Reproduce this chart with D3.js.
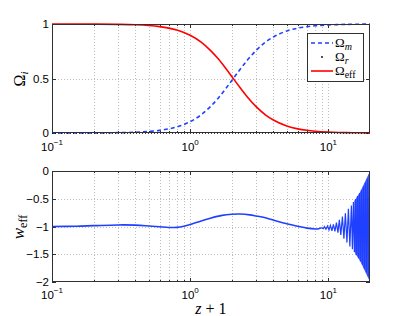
<!DOCTYPE html>
<html><head><meta charset="utf-8">
<script src="https://cdn.jsdelivr.net/npm/d3@7"></script>
<style>body{margin:0;background:#fff}svg{display:block}</style>
</head><body>
<svg id="c" width="409" height="316"></svg>
<script>
// ---- data ----
const zTop = [0.1,0.15,0.2,0.3,0.4,0.5,0.6,0.7,0.8,0.9,1.0,1.2,1.4,1.6,1.8,2.0,2.3,2.6,3.0,3.5,4,5,6,7,8,10,12,15,20];
const omegaEff = [0.9999,0.9996,0.999,0.997,0.993,0.986,0.976,0.962,0.944,0.922,0.896,0.833,0.758,0.678,0.596,0.518,0.415,0.329,0.242,0.167,0.119,0.064,0.038,0.0245,0.0166,0.0085,0.005,0.0025,0.0011];
const omegaM = [0.0001,0.0004,0.001,0.003,0.007,0.014,0.024,0.038,0.056,0.078,0.104,0.167,0.242,0.322,0.404,0.482,0.585,0.671,0.758,0.833,0.881,0.936,0.962,0.9755,0.9834,0.9915,0.995,0.9975,0.9989];
const omegaR = [0,0,0,0,0,0,0,0,0,0,0,0,0,0,0,0,0,0,0,0,0,0,0,0,0,0,0,0,0];

const zW = [0.1,0.15,0.2,0.3,0.4,0.5,0.6,0.7,0.8,0.9,1.0,1.2,1.4,1.7,2.0,2.3,2.7,3.0,3.6,4.2,5,6,7,8,8.5,8.9];
const wEff = [-1.0,-0.995,-0.985,-0.972,-0.975,-0.99,-1.005,-1.018,-1.015,-0.995,-0.965,-0.9,-0.85,-0.80,-0.78,-0.775,-0.79,-0.81,-0.85,-0.9,-0.95,-0.995,-1.03,-1.045,-1.04,-1.02];
const zOsc = [8.9,9.2,9.35,9.6,9.85,10.1,10.34,10.6,10.87,11.15,11.43,11.72,12.0,12.3,12.63,12.95,13.27,13.62,13.96,14.3,14.67,14.92,15.17,15.42,15.68,15.95,16.22,16.49,16.77,17.05,17.33,17.62,17.92,18.22,18.53,18.84,19.16,19.48,19.8,20,20];
const wOsc = [-1.02,-1.04,-1.0,-1.05,-0.99,-1.06,-0.98,-1.08,-0.96,-1.09,-0.93,-1.11,-0.88,-1.15,-0.82,-1.22,-0.76,-1.29,-0.68,-1.36,-0.62,-1.41,-0.56,-1.46,-0.51,-1.52,-0.45,-1.57,-0.40,-1.63,-0.34,-1.69,-0.28,-1.76,-0.21,-1.83,-0.14,-1.90,-0.06,-2.0,0.0];
const zEnv = [15.42,17.05,20];
const envUpper = [-0.54,-0.37,0];
const envLower = [-1.46,-1.63,-2];

const xTicks = [0.1,1,10];
const xTickExp = ["\u22121","0","1"];
const yTopTicks = [0,0.5,1];
const yTopLabels = ["0","0.5","1"];
const yBotTicks = [0,-0.5,-1,-1.5,-2];
const yBotLabels = ["0","\u22120.5","\u22121","\u22121.5","\u22122"];

// ---- layout ----
const SANS = "'Liberation Sans', Arial, sans-serif";
const SERIF = "'Liberation Serif', 'Times New Roman', serif";
const svg = d3.select("#c");
const L = 52, R = 370;
const top1 = 24, bot1 = 133, top2 = 171, bot2 = 282;
const x = d3.scaleLog().domain([0.1,20]).range([L,R]);
const y1 = d3.scaleLinear().domain([0,1]).range([bot1,top1]);
const y2 = d3.scaleLinear().domain([-2,0]).range([bot2,top2]);

const axisColor = "#303030";
const gridColor = "#bdbdbd";
const minorTicks = [];
[0.1,1,10].forEach(d => { for (let k=2;k<=9;k++){ const v=d*k; if (v<20) minorTicks.push(v);} });
const majorInside = [1,10];

function panel(yS, top, bot, yTicks, yLabels, labelBase) {
  const g = svg.append("g");
  g.selectAll(null).data(minorTicks.concat(majorInside)).enter().append("line")
    .attr("x1", d=>Math.round(x(d))+0.5).attr("x2", d=>Math.round(x(d))+0.5)
    .attr("y1", top).attr("y2", bot)
    .attr("stroke", gridColor).attr("stroke-width",1).attr("stroke-dasharray","1,2");
  g.selectAll(null).data(yTicks.slice(1,-1)).enter().append("line")
    .attr("x1", L).attr("x2", R)
    .attr("y1", d=>Math.round(yS(d))+0.5).attr("y2", d=>Math.round(yS(d))+0.5)
    .attr("stroke", gridColor).attr("stroke-width",1).attr("stroke-dasharray","1,2");
  [[bot,-1],[top,1]].forEach(([yy,dir]) => {
    g.selectAll(null).data(majorInside).enter().append("line")
      .attr("x1", d=>Math.round(x(d))+0.5).attr("x2", d=>Math.round(x(d))+0.5)
      .attr("y1", yy).attr("y2", yy+dir*4).attr("stroke", axisColor);
    g.selectAll(null).data(minorTicks).enter().append("line")
      .attr("x1", d=>Math.round(x(d))+0.5).attr("x2", d=>Math.round(x(d))+0.5)
      .attr("y1", yy).attr("y2", yy+dir*2).attr("stroke", axisColor);
  });
  [[L,1],[R,-1]].forEach(([xx,dir]) => {
    g.selectAll(null).data(yTicks).enter().append("line")
      .attr("x1", xx).attr("x2", xx+dir*4)
      .attr("y1", d=>Math.round(yS(d))+0.5).attr("y2", d=>Math.round(yS(d))+0.5)
      .attr("stroke", axisColor);
  });
  g.selectAll(null).data(yTicks).enter().append("text")
    .attr("x", L-3).attr("y", d=>yS(d)+4)
    .attr("text-anchor","end")
    .attr("font-family",SANS).attr("font-size","11.5px")
    .attr("fill","#000")
    .text((d,i)=>yLabels[i]);
  const t = g.selectAll(null).data(xTicks).enter().append("text")
    .attr("x", d=>x(d)).attr("y", labelBase)
    .attr("text-anchor","middle")
    .attr("font-family",SANS).attr("font-size","11.5px")
    .attr("fill","#000");
  t.append("tspan").text("10");
  t.append("tspan").attr("dy",-6).attr("font-size","8px").text((d,i)=>xTickExp[i]);
  return g;
}

function box(top, bot) {
  svg.append("rect").attr("x", L+0.5).attr("y", top+0.5)
    .attr("width", R-L-1).attr("height", bot-top-1)
    .attr("fill","none").attr("stroke", axisColor).attr("stroke-width",1);
}

// top panel
panel(y1, top1, bot1, yTopTicks, yTopLabels, 151);
svg.append("clipPath").attr("id","cl1").append("rect")
  .attr("x",L).attr("y",top1-2).attr("width",R-L).attr("height",bot1-top1+4);
const line1 = (arr) => d3.line().x((d,i)=>x(zTop[i])).y((d)=>y1(d)).curve(d3.curveMonotoneX)(arr);
const gp1 = svg.append("g").attr("clip-path","url(#cl1)");
gp1.append("path").attr("d", line1(omegaM)).attr("fill","none")
  .attr("stroke","#2040ff").attr("stroke-width",1.6).attr("stroke-dasharray","4,3");
gp1.append("path").attr("d", line1(omegaEff)).attr("fill","none")
  .attr("stroke","#ff0000").attr("stroke-width",1.6);
gp1.append("path").attr("d", line1(omegaR)).attr("fill","none")
  .attr("stroke","#000").attr("stroke-width",1.3).attr("stroke-dasharray","1,2");
box(top1, bot1);

// legend
const lg = svg.append("g");
lg.append("rect").attr("x",307.5).attr("y",33.5).attr("width",56).attr("height",48)
  .attr("fill","#fff").attr("stroke",axisColor).attr("stroke-width",1);
const legY = [43, 57, 71];
lg.append("line").attr("x1",311).attr("x2",333).attr("y1",legY[0]).attr("y2",legY[0])
  .attr("stroke","#2040ff").attr("stroke-width",1.6).attr("stroke-dasharray","4,3");
lg.append("circle").attr("cx",322).attr("cy",legY[1]).attr("r",0.9).attr("fill","#000");
lg.append("line").attr("x1",311).attr("x2",333).attr("y1",legY[2]).attr("y2",legY[2])
  .attr("stroke","#ff0000").attr("stroke-width",1.6);
const legText = [["\u03A9","m",true],["\u03A9","r",true],["\u03A9","eff",false]];
legText.forEach((e,i) => {
  const t = lg.append("text").attr("x",335).attr("y",legY[i]+4)
    .attr("font-family",SERIF).attr("font-size","13px").attr("fill","#000");
  t.append("tspan").text(e[0]);
  t.append("tspan").attr("dy",3).attr("font-size","10px").attr("font-style", e[2]?"italic":"normal").text(e[1]);
});

// bottom panel
panel(y2, top2, bot2, yBotTicks, yBotLabels, 299);
svg.append("clipPath").attr("id","cl2").append("rect")
  .attr("x",L).attr("y",top2).attr("width",R-L).attr("height",bot2-top2);
const gp2 = svg.append("g").attr("clip-path","url(#cl2)");
gp2.append("path")
  .attr("d", d3.area().x((d,i)=>x(zEnv[i])).y0((d,i)=>y2(envLower[i])).y1((d)=>y2(d))(envUpper))
  .attr("fill","#2040ff").attr("fill-opacity",0.85);
gp2.append("path")
  .attr("d", d3.line().x((d,i)=>x(zW[i])).y(d=>y2(d)).curve(d3.curveCatmullRom)(wEff))
  .attr("fill","none").attr("stroke","#2040ff").attr("stroke-width",1.6);
gp2.append("path")
  .attr("d", d3.line().x((d,i)=>x(zOsc[i])).y(d=>y2(d))(wOsc))
  .attr("fill","none").attr("stroke","#2040ff").attr("stroke-width",1.2);
box(top2, bot2);

// axis titles
const t1 = svg.append("text").attr("transform","translate(25,79) rotate(-90)")
  .attr("text-anchor","middle").attr("font-family",SERIF)
  .attr("font-size","16px").attr("fill","#000");
t1.append("tspan").text("\u03A9");
t1.append("tspan").attr("dy",3).attr("font-size","11px").attr("font-style","italic").text("i");

const t2 = svg.append("text").attr("transform","translate(24,227) rotate(-90)")
  .attr("text-anchor","middle").attr("font-family",SERIF)
  .attr("font-size","17px").attr("fill","#000");
t2.append("tspan").attr("font-style","italic").text("w");
t2.append("tspan").attr("dy",3).attr("font-size","12px").text("eff");

const t3 = svg.append("text").attr("x",(L+R)/2).attr("y",314)
  .attr("text-anchor","middle").attr("font-family",SERIF)
  .attr("font-size","16px").attr("fill","#000");
t3.append("tspan").attr("font-style","italic").text("z");
t3.append("tspan").text(" + 1");
</script>
</body></html>
